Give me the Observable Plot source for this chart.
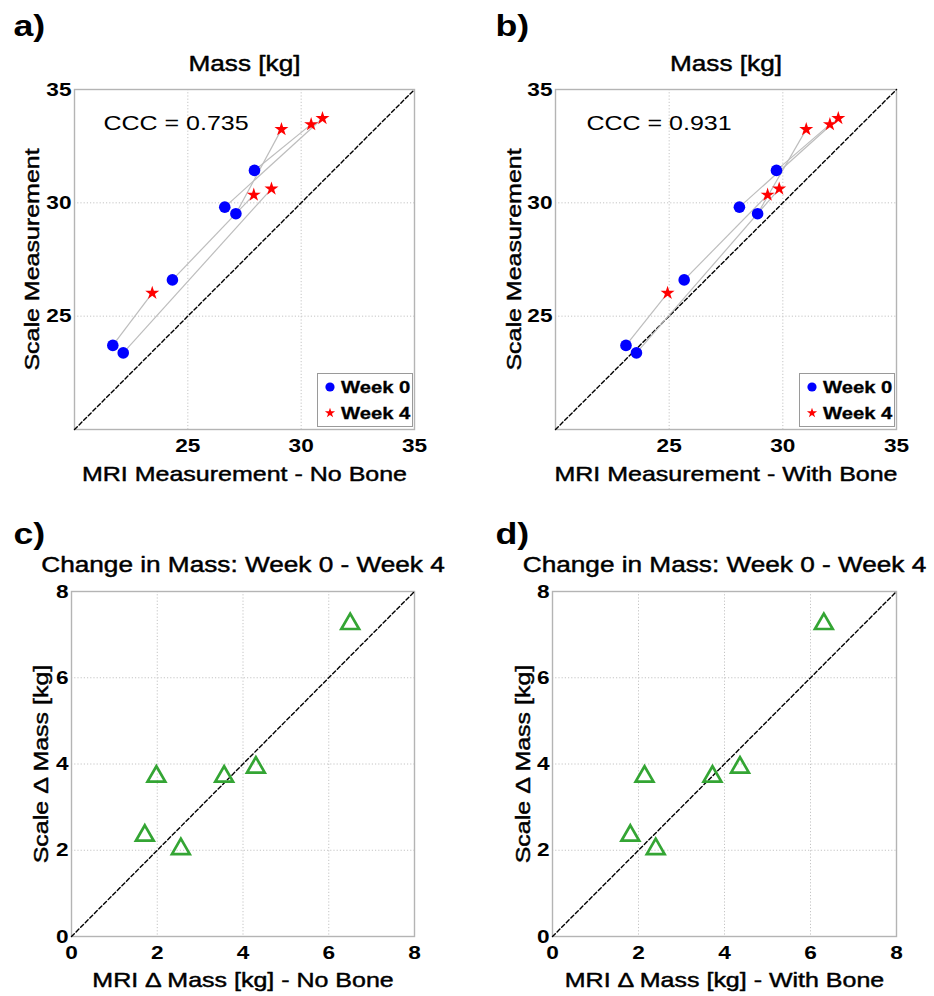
<!DOCTYPE html>
<html>
<head>
<meta charset="utf-8">
<script src="https://cdn.jsdelivr.net/npm/d3@7"></script>
<script src="https://cdn.jsdelivr.net/npm/@observablehq/plot@0.6"></script>
<style>
  body { margin: 0; background: #fff; }
  #fig { position: relative; width: 934px; height: 996px; font-family: "Liberation Sans", Arial, sans-serif; }
  .panel { position: absolute; }
</style>
</head>
<body>
<div id="fig"></div>
<script>
// ---------------- data ----------------
const subjects = ["S1", "S2", "S3", "S4", "S5", "S6"];
// Scale measurement [kg]
const scaleWeek0 = [23.71, 23.38, 26.60, 29.81, 29.52, 31.43];
const scaleWeek4 = [26.02, 30.62, 30.35, 33.73, 33.24, 33.46];
// MRI measurement, no bone [kg]
const mriNoBoneWeek0 = [21.69, 22.15, 24.32, 26.63, 27.12, 27.94];
const mriNoBoneWeek4 = [23.43, 28.69, 27.91, 30.94, 29.13, 30.44];
// MRI measurement, with bone [kg]
const mriWithBoneWeek0 = [23.10, 23.56, 25.66, 28.09, 28.89, 29.72];
const mriWithBoneWeek4 = [24.93, 29.84, 29.33, 32.44, 31.03, 32.07];
// Change in mass, week 0 - week 4 [kg]
const mriDeltaNoBone   = [1.71, 6.50, 3.56, 4.30, 1.98, 2.55];
const mriDeltaWithBone = [1.81, 6.31, 3.72, 4.36, 2.14, 2.40];
const scaleDelta       = [2.34, 7.25, 3.71, 3.92, 3.71, 2.03];
const cccNoBone = "CCC = 0.735";
const cccWithBone = "CCC = 0.931";
// axes
const massDomain = [20, 35];
const massTicks = [25, 30, 35];
const massGrid = [25, 30];
const deltaDomain = [0, 8];
const deltaTicks = [0, 2, 4, 6, 8];
const deltaGrid = [2, 4, 6];
const legendLabels = ["Week 0", "Week 4"];

// ---------------- styles ----------------
const FONT = "Liberation Sans, Arial, sans-serif";
const STRETCH = 1.19;
const BLUE = "#0000ff", RED = "#ff0000", GREEN = "#34a534";

const fig = document.getElementById("fig");

function place(node, left, top) {
  const div = document.createElement("div");
  div.className = "panel";
  div.style.left = left + "px";
  div.style.top = top + "px";
  div.appendChild(node);
  fig.appendChild(div);
  return node;
}

function stretchText(svg) {
  svg.querySelectorAll("text").forEach(t => {
    const len = t.getComputedTextLength();
    if (len > 0) {
      t.setAttribute("textLength", (len * STRETCH).toFixed(2));
      t.setAttribute("lengthAdjust", "spacingAndGlyphs");
    }
  });
}

const heavy = {fontWeight: "normal", fill: "#000", stroke: "#000", strokeWidth: 0.45};

function labelMarks({letter, title, xLabel, yLabel, L, T, titleDy, letterDy, yLabelDx, xLabelDy, letterX}) {
  return [
    Plot.text([letter], {frameAnchor: "top-left", dx: letterX - L, dy: letterDy, textAnchor: "start",
      lineAnchor: "bottom", fontSize: 30, fontWeight: "bold", fill: "#000"}),
    Plot.text([title], {frameAnchor: "top", dy: titleDy, textAnchor: "middle", lineAnchor: "bottom", fontSize: 22, ...heavy}),
    Plot.text([xLabel], {frameAnchor: "bottom", dy: xLabelDy, textAnchor: "middle", lineAnchor: "bottom", fontSize: 21, ...heavy}),
    Plot.text([yLabel], {frameAnchor: "left", dx: yLabelDx, rotate: -90, textAnchor: "middle", lineAnchor: "bottom",
      fontSize: 21, ...heavy})
  ];
}

function massPanel({left, L, R, mri0, mri4, ccc, cccDx, letter, xLabel, letterX, yLabelDx}) {
  const W = 467, H = 490, T = 89, B = 61;
  const rows = subjects.map((s, i) => ({s, x0: mri0[i], y0: scaleWeek0[i], x4: mri4[i], y4: scaleWeek4[i]}));
  const svg = Plot.plot({
    width: W, height: H,
    marginLeft: L, marginRight: R, marginTop: T, marginBottom: B,
    x: {domain: massDomain},
    y: {domain: massDomain},
    style: {fontFamily: FONT, fontSize: "19px", fontWeight: "bold", color: "#000", background: "transparent", overflow: "visible"},
    marks: [
      Plot.gridX({ticks: massGrid, stroke: "#c4c4c4", strokeOpacity: 1, strokeDasharray: "1.2,2"}),
      Plot.gridY({ticks: massGrid, stroke: "#c4c4c4", strokeOpacity: 1, strokeDasharray: "1.2,2"}),
      Plot.frame({stroke: "#b4b4b4", strokeWidth: 1.4}),
      Plot.axisX({ticks: massTicks, tickSize: 0, tickPadding: 9, label: null, fill: "#000", stroke: "#000", strokeWidth: 0.3}),
      Plot.axisY({ticks: massTicks, tickSize: 0, tickPadding: 3, label: null, fill: "#000", stroke: "#000", strokeWidth: 0.3}),
      Plot.line(massDomain, {x: d => d, y: d => d, stroke: "#000", strokeWidth: 1.4, strokeDasharray: "4,2.5"}),
      Plot.link(rows, {x1: "x0", y1: "y0", x2: "x4", y2: "y4", stroke: "#bdbdbd", strokeWidth: 1.2}),
      Plot.dot(rows, {x: "x0", y: "y0", r: 5.8, fill: BLUE}),
      Plot.dot(rows, {x: "x4", y: "y4", r: 4.4, symbol: "star", fill: RED}),
      Plot.text([ccc], {frameAnchor: "top-left", dx: cccDx, dy: 34, textAnchor: "start", lineAnchor: "middle",
        fontSize: 21, fontWeight: "normal", fill: "#000"}),
      ...labelMarks({letter, title: "Mass [kg]", xLabel, yLabel: "Scale Measurement", L, T,
        titleDy: -19, letterDy: 35 - T, yLabelDx, xLabelDy: 51, letterX})
    ]
  });
  place(svg, left, 0);
  stretchText(svg);
  // legend box (bottom-right inside the frame)
  const lw = 96, lh = 54;
  const lx = left + W - R - lw - 1, ly = T + (H - T - B) - lh - 2;
  const lg = d3.create("svg").attr("width", lw).attr("height", lh)
    .style("font-family", FONT).style("overflow", "visible");
  lg.append("rect").attr("x", 0.5).attr("y", 0.5).attr("width", lw - 1).attr("height", lh - 1)
    .attr("fill", "#fff").attr("stroke", "#9a9a9a").attr("stroke-width", 1);
  const syms = [d3.symbol(d3.symbolCircle, Math.PI * 4.6 * 4.6)(), d3.symbol(d3.symbolStar, 32)()];
  const cols = [BLUE, RED];
  legendLabels.forEach((lab, i) => {
    const cy = 14 + i * 26;
    lg.append("path").attr("d", syms[i]).attr("transform", `translate(13,${cy})`).attr("fill", cols[i]);
    lg.append("text").attr("x", 24).attr("y", cy).attr("dy", "0.35em")
      .style("font-size", "17px").style("font-weight", "bold")
      .attr("fill", "#000").attr("stroke", "#000").attr("stroke-width", 0.3).text(lab);
  });
  const lnode = place(lg.node(), lx, ly);
  stretchText(lnode);
}

function deltaPanel({left, L, R, mriDelta, letter, xLabel, letterX, yLabelDx}) {
  const W = 467, H = 506, T = 101, B = 60;
  const rows = subjects.map((s, i) => ({s, x: mriDelta[i], y: scaleDelta[i]}));
  const svg = Plot.plot({
    width: W, height: H,
    marginLeft: L, marginRight: R, marginTop: T, marginBottom: B,
    x: {domain: deltaDomain},
    y: {domain: deltaDomain},
    style: {fontFamily: FONT, fontSize: "19px", fontWeight: "bold", color: "#000", background: "transparent", overflow: "visible"},
    marks: [
      Plot.gridX({ticks: deltaGrid, stroke: "#c4c4c4", strokeOpacity: 1, strokeDasharray: "1.2,2"}),
      Plot.gridY({ticks: deltaGrid, stroke: "#c4c4c4", strokeOpacity: 1, strokeDasharray: "1.2,2"}),
      Plot.frame({stroke: "#b4b4b4", strokeWidth: 1.4}),
      Plot.axisX({ticks: deltaTicks, tickSize: 0, tickPadding: 9, label: null, fill: "#000", stroke: "#000", strokeWidth: 0.3}),
      Plot.axisY({ticks: deltaTicks, tickSize: 0, tickPadding: 3, label: null, fill: "#000", stroke: "#000", strokeWidth: 0.3}),
      Plot.line(deltaDomain, {x: d => d, y: d => d, stroke: "#000", strokeWidth: 1.4, strokeDasharray: "4,2.5"}),
      Plot.dot(rows, {x: "x", y: "y", r: 6.6, symbol: "triangle", stroke: GREEN, strokeWidth: 2.7, fill: "none"}),
      ...labelMarks({letter, title: "Change in Mass: Week 0 - Week 4", xLabel, yLabel: "Scale \u0394 Mass [kg]", L, T,
        titleDy: -20, letterDy: 53 - T, yLabelDx, xLabelDy: 50, letterX})
    ]
  });
  place(svg, left, 490);
  stretchText(svg);
}

massPanel({left: 0, L: 74, R: 53, mri0: mriNoBoneWeek0, mri4: mriNoBoneWeek4, ccc: cccNoBone, cccDx: 29,
  letter: "a)", xLabel: "MRI Measurement - No Bone", letterX: 13, yLabelDx: -36});
massPanel({left: 467, L: 88, R: 38, mri0: mriWithBoneWeek0, mri4: mriWithBoneWeek4, ccc: cccWithBone, cccDx: 31,
  letter: "b)", xLabel: "MRI Measurement - With Bone", letterX: 28, yLabelDx: -35});
deltaPanel({left: 0, L: 71, R: 53, mriDelta: mriDeltaNoBone, letter: "c)",
  xLabel: "MRI \u0394 Mass [kg] - No Bone", letterX: 13, yLabelDx: -24});
deltaPanel({left: 467, L: 85, R: 38, mriDelta: mriDeltaWithBone, letter: "d)",
  xLabel: "MRI \u0394 Mass [kg] - With Bone", letterX: 28, yLabelDx: -23});
</script>
</body>
</html>
